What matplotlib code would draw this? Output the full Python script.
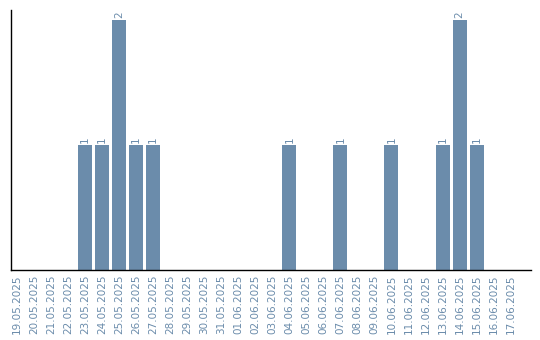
import matplotlib
matplotlib.use("Agg")
import matplotlib.pyplot as plt

dates = ["19.05.2025", "20.05.2025", "21.05.2025", "22.05.2025", "23.05.2025",
         "24.05.2025", "25.05.2025", "26.05.2025", "27.05.2025", "28.05.2025",
         "29.05.2025", "30.05.2025", "31.05.2025", "01.06.2025", "02.06.2025",
         "03.06.2025", "04.06.2025", "05.06.2025", "06.06.2025", "07.06.2025",
         "08.06.2025", "09.06.2025", "10.06.2025", "11.06.2025", "12.06.2025",
         "13.06.2025", "14.06.2025", "15.06.2025", "16.06.2025", "17.06.2025"]
values = [0, 0, 0, 0, 1, 1, 2, 1, 1, 0, 0, 0, 0, 0, 0,
          0, 1, 0, 0, 1, 0, 0, 1, 0, 0, 1, 2, 1, 0, 0]

color = "#6b8cab"
fig = plt.figure(figsize=(5.4, 3.4), dpi=100)
ax = fig.add_axes([0.0204, 0.206, 0.963, 0.765])
x = list(range(len(dates)))
bars = ax.bar(x, values, width=0.82, color=color)
for xi, v in zip(x, values):
    if v > 0:
        ax.text(xi, v + 0.015, str(v), rotation=90, ha="center", va="bottom",
                color=color, fontsize=7.5)
ax.set_xlim(-0.35, 30.2)
ax.set_ylim(0, 2.08)
ax.set_xticks(x)
ax.set_xticklabels(dates, rotation=90, color=color, fontsize=7.5)
ax.tick_params(axis="x", length=0, pad=3)
ax.set_yticks([])
for s in ["top", "right"]:
    ax.spines[s].set_visible(False)
ax.spines["left"].set_linewidth(1.0)
ax.spines["bottom"].set_linewidth(1.0)
fig.savefig("out.png", dpi=100)
